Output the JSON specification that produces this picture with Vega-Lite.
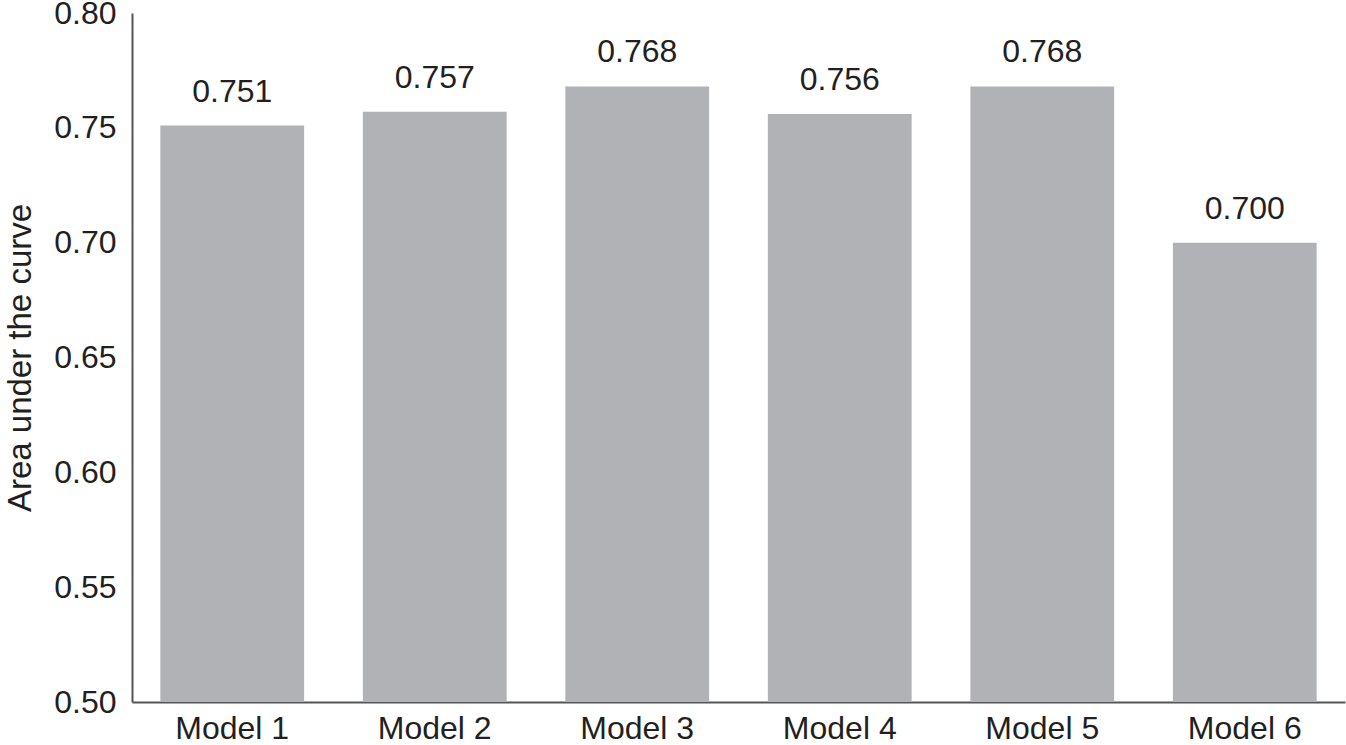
{
  "$schema": "https://vega.github.io/schema/vega-lite/v6.json",
  "autosize": "none",
  "padding": {"left": 132, "top": 13, "right": 1, "bottom": 43},
  "width": 1213,
  "height": 689,
  "background": "white",
  "config": {"view": {"stroke": null}, "font": "Liberation Sans"},
  "data": {"values": [
    {"model": "Model 1", "auc": 0.751},
    {"model": "Model 2", "auc": 0.757},
    {"model": "Model 3", "auc": 0.768},
    {"model": "Model 4", "auc": 0.756},
    {"model": "Model 5", "auc": 0.768},
    {"model": "Model 6", "auc": 0.700}
  ]},
  "encoding": {
    "x": {"field": "model", "type": "nominal", "sort": null,
      "scale": {"paddingInner": 0.29, "paddingOuter": 0.14},
      "axis": {"title": null, "labelAngle": 0, "ticks": false, "domain": true, "domainColor": "#555555", "domainWidth": 2,
        "labelFontSize": 32, "labelColor": "#231f20", "labelPadding": 11, "grid": false}},
    "y": {"field": "auc", "type": "quantitative",
      "scale": {"domain": [0.5, 0.8], "zero": false, "nice": false},
      "axis": {"title": "Area under the curve", "values": [0.5, 0.55, 0.6, 0.65, 0.7, 0.75, 0.8], "format": ".2f",
        "ticks": false, "grid": false, "domainColor": "#555555", "domainWidth": 2,
        "labelFontSize": 32, "labelColor": "#231f20", "labelPadding": 16,
        "titleFontSize": 33, "titleFontWeight": "normal", "titleColor": "#231f20", "titlePadding": 16}}
  },
  "layer": [
    {"mark": {"type": "bar", "color": "#b1b2b6"},
     "encoding": {"y2": {"datum": 0.5}}},
    {"mark": {"type": "text", "baseline": "alphabetic", "dy": -24, "fontSize": 32, "color": "#231f20"},
     "encoding": {"text": {"field": "auc", "type": "quantitative", "format": ".3f"}}}
  ]
}
